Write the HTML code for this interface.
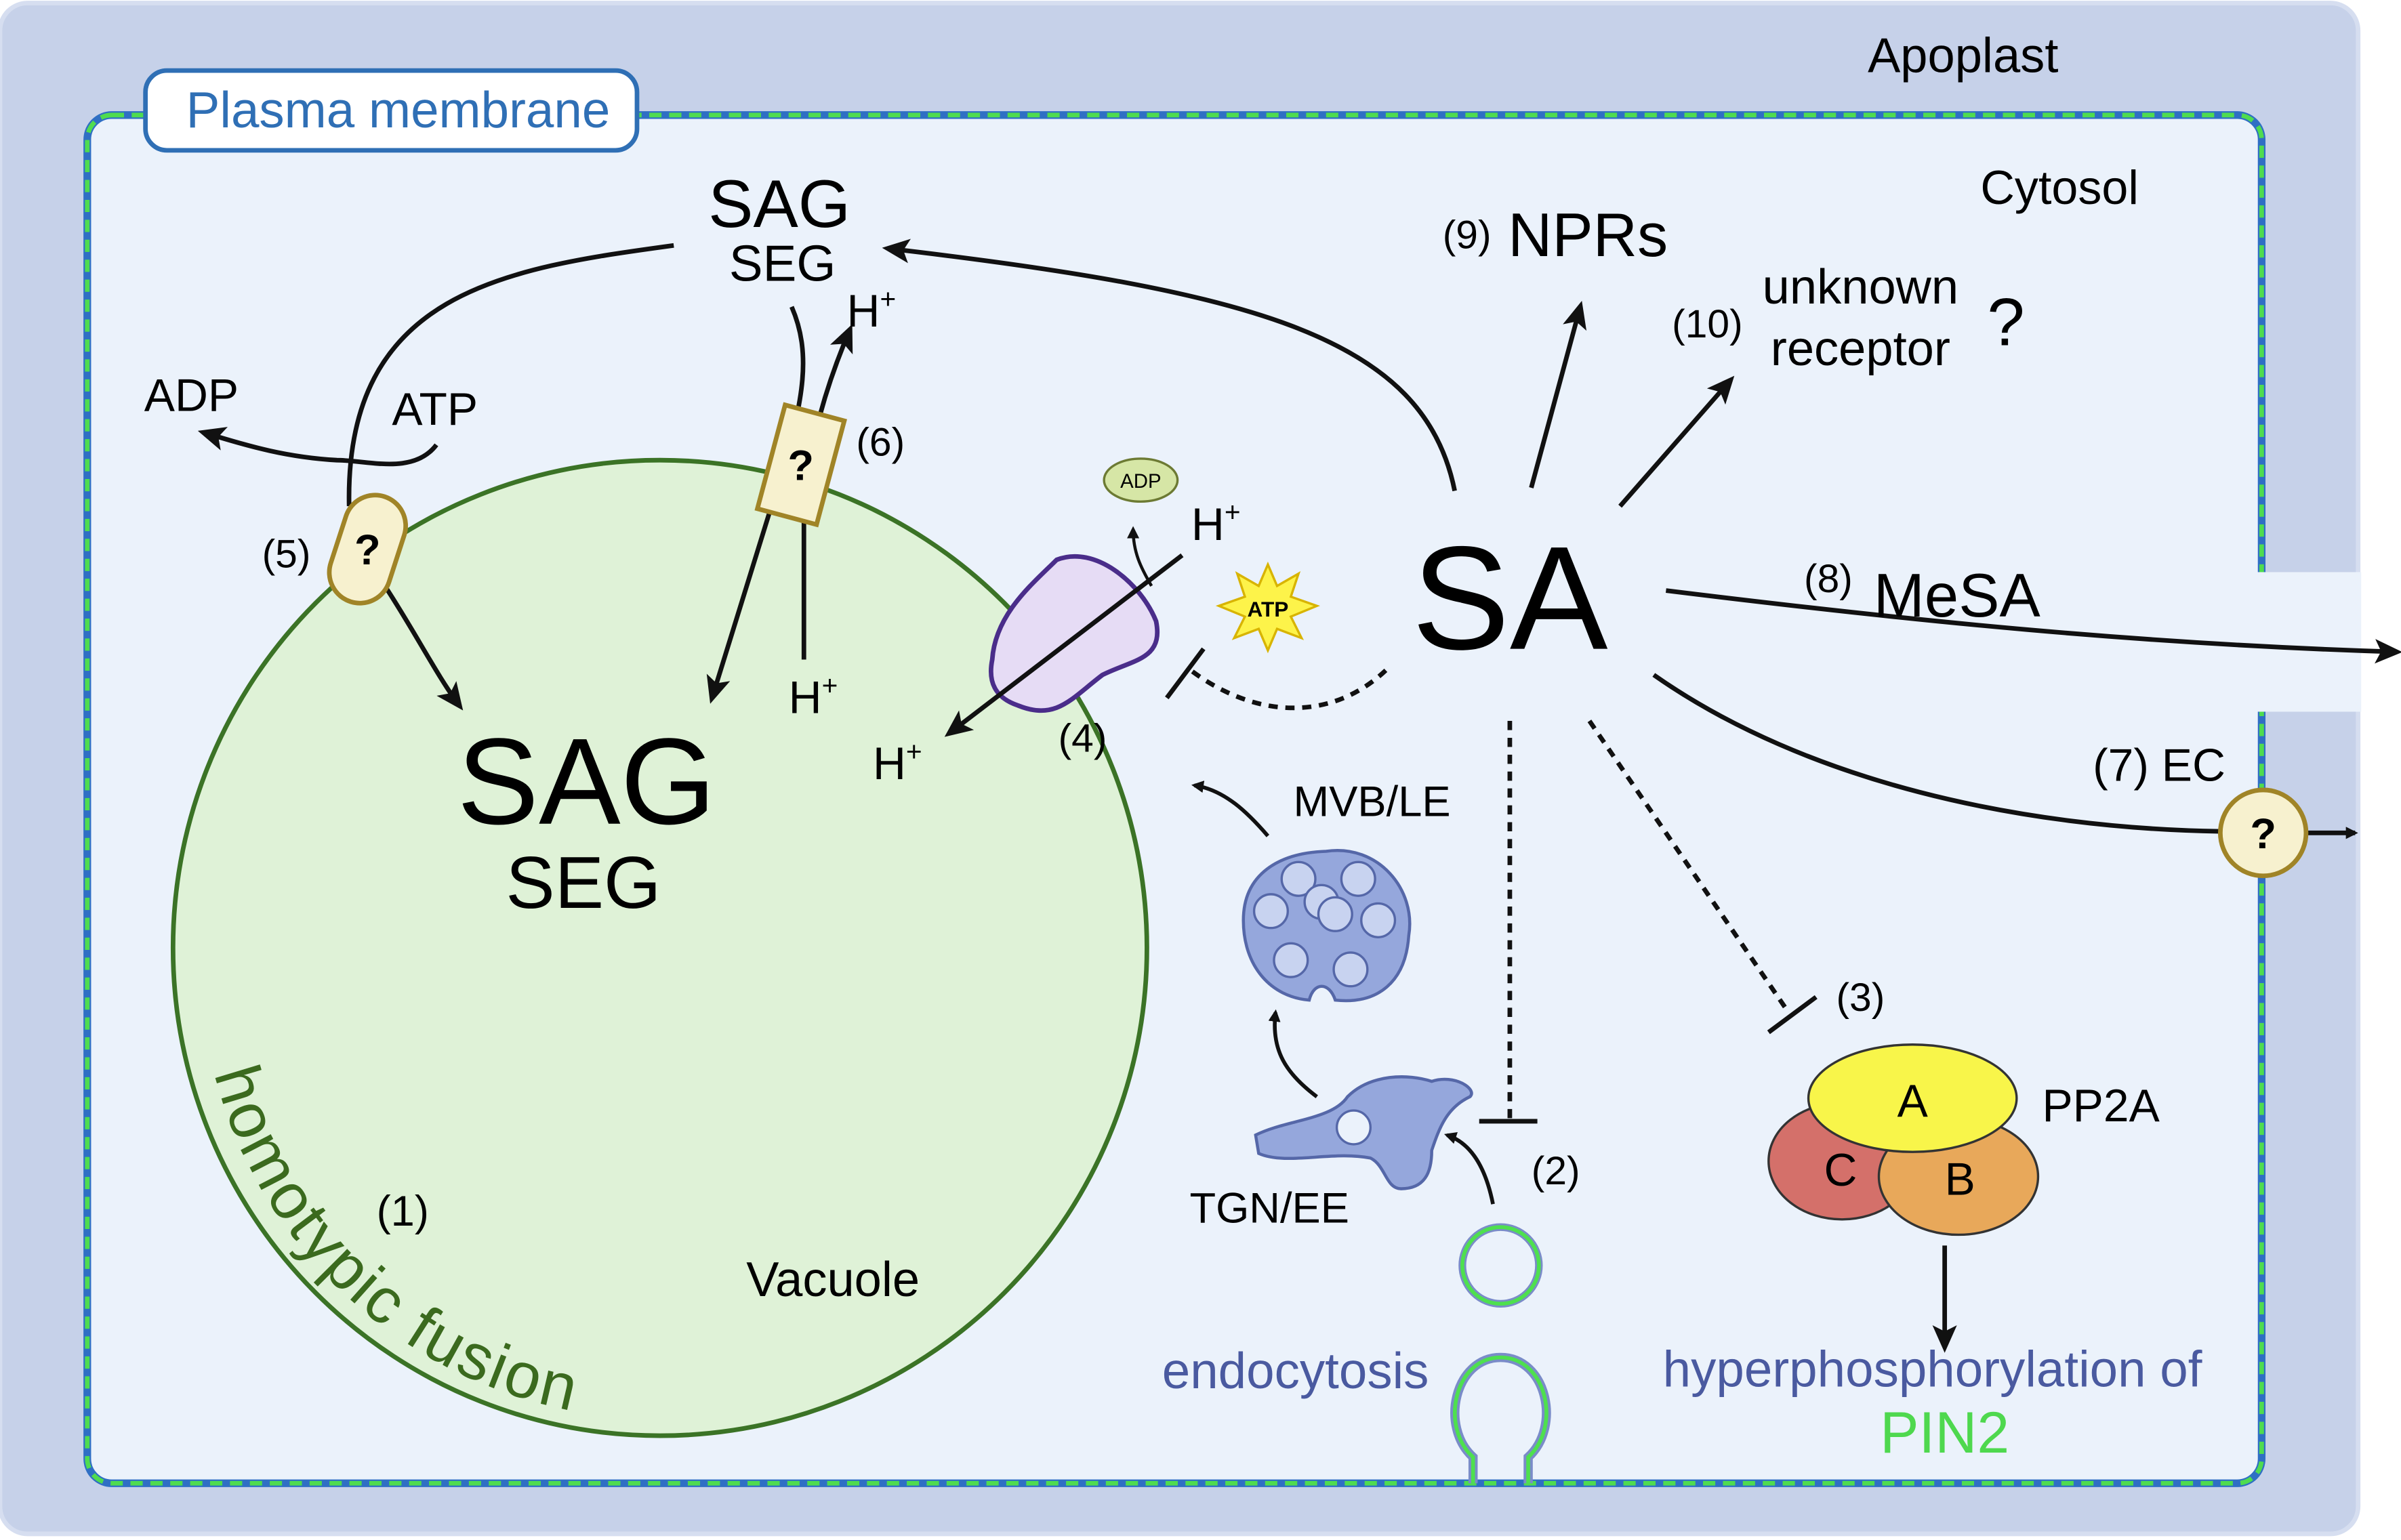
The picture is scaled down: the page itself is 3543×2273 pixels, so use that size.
<!DOCTYPE html>
<html><head><meta charset="utf-8"><style>
html,body{margin:0;padding:0;background:#fff}
svg{display:block}
text{font-family:"Liberation Sans",sans-serif}
</style></head><body>
<svg width="3543" height="2273" viewBox="0 0 1568 1004" preserveAspectRatio="none" xmlns="http://www.w3.org/2000/svg">
<defs>
<marker id="ah" markerWidth="8" markerHeight="8" refX="6" refY="4" orient="auto" markerUnits="userSpaceOnUse" viewBox="0 0 8 8"><path d="M0,0 L8,4 L0,8 Z" fill="#111"/></marker>
<marker id="ahb" markerWidth="18" markerHeight="16" refX="14" refY="8" orient="auto" markerUnits="userSpaceOnUse"><path d="M0,0 L18,8 L0,16 L4,8 Z" fill="#111"/></marker>
<path id="fus" d="M 140 700 A 300 300 0 0 0 420 925"/>
</defs>
<rect x="0" y="2" width="1540" height="998" rx="18" fill="#c6d1e9" stroke="#d6def0" stroke-width="3"/>
<rect x="57" y="75" width="1420" height="892" rx="16" fill="#ebf2fb" stroke="#2f6fc4" stroke-width="5"/>
<rect x="57" y="75" width="1420" height="892" rx="16" fill="none" stroke="#4fdc4f" stroke-width="3" stroke-dasharray="8 5"/>
<rect x="1470" y="373" width="72" height="91" fill="#ebf2fb"/>
<rect x="95" y="46" width="321" height="52" rx="14" fill="#fff" stroke="#2f6fb5" stroke-width="3"/>
<text x="260" y="83" font-size="33" fill="#2f6fb5" text-anchor="middle">Plasma membrane</text>
<text x="1282" y="47" font-size="32" text-anchor="middle">Apoplast</text>
<text x="1345" y="133" font-size="31" text-anchor="middle">Cytosol</text>
<circle cx="431" cy="618" r="318" fill="#dff2d7" stroke="#3b7326" stroke-width="3"/>
<text font-size="42" fill="#3b6a1e" letter-spacing="1.5"><textPath href="#fus">homotypic fusion</textPath></text>
<text x="383" y="537" font-size="80" text-anchor="middle">SAG</text>
<text x="381" y="592" font-size="48" text-anchor="middle">SEG</text>
<text x="509" y="148" font-size="44" text-anchor="middle">SAG</text>
<text x="511" y="183" font-size="33" text-anchor="middle">SEG</text>
<text x="263" y="799" font-size="28" text-anchor="middle">(1)</text>
<text x="544" y="845" font-size="32" text-anchor="middle">Vacuole</text>
<text x="986" y="423" font-size="96" text-anchor="middle">SA</text>
<path d="M440,160 C330,175 225,190 228,330" fill="none" stroke="#111" stroke-width="3"/>
<path d="M285,290 C270,310 240,300 220,300 C185,298 160,290 133,282" fill="none" stroke="#111" stroke-width="3" marker-end="url(#ahb)"/>
<path d="M250,380 C270,410 285,440 300,460" fill="none" stroke="#111" stroke-width="3" marker-end="url(#ahb)"/>
<rect x="220" y="322" width="40" height="72" rx="20" transform="rotate(18 240 358)" fill="#f7f1cf" stroke="#a08427" stroke-width="3"/>
<text x="240" y="368" font-size="28" font-weight="bold" text-anchor="middle">?</text>
<text x="125" y="268" font-size="30" text-anchor="middle">ADP</text>
<text x="284" y="277" font-size="30" text-anchor="middle">ATP</text>
<text x="187" y="370" font-size="26" text-anchor="middle">(5)</text>
<path d="M517,200 C530,230 525,260 510,310 L465,455" fill="none" stroke="#111" stroke-width="3" marker-end="url(#ahb)"/>
<path d="M525,430 L525,330 C528,290 540,250 555,215" fill="none" stroke="#111" stroke-width="3" marker-end="url(#ahb)"/>
<rect x="503" y="268" width="40" height="70" transform="rotate(15 523 303)" fill="#f7f1cf" stroke="#a08427" stroke-width="3"/>
<text x="523" y="313" font-size="28" font-weight="bold" text-anchor="middle">?</text>
<text x="553" y="213" font-size="30">H<tspan font-size="18" dy="-12">+</tspan></text>
<text x="515" y="465" font-size="30">H<tspan font-size="18" dy="-12">+</tspan></text>
<text x="575" y="297" font-size="26" text-anchor="middle">(6)</text>
<path d="M950,320 C930,220 820,190 580,162" fill="none" stroke="#111" stroke-width="3" marker-end="url(#ahb)"/>
<path d="M648,430 C650,400 675,380 690,365 C715,355 745,380 755,405 C760,430 740,430 720,440 C700,455 690,470 665,460 C650,455 645,445 648,430 Z" fill="#e6dcf5" stroke="#4a2d8a" stroke-width="3"/>
<line x1="772" y1="362" x2="620" y2="478" stroke="#111" stroke-width="3" marker-end="url(#ahb)"/>
<path d="M752,382 C745,370 740,360 740,345" fill="none" stroke="#111" stroke-width="2" marker-end="url(#ah)"/>
<ellipse cx="745" cy="313" rx="24" ry="14" fill="#d6e6a6" stroke="#6c7a33" stroke-width="1.5"/>
<text x="745" y="318" font-size="13" text-anchor="middle">ADP</text>
<polygon points="828,368 834,382 848,374 843,389 860,395 843,402 850,416 834,410 828,424 822,410 806,416 813,402 796,395 813,389 808,374 822,382" fill="#fdf34a" stroke="#d8b400" stroke-width="1.5"/>
<text x="828" y="402" font-size="14" font-weight="bold" text-anchor="middle">ATP</text>
<text x="778" y="352" font-size="30">H<tspan font-size="18" dy="-12">+</tspan></text>
<text x="570" y="508" font-size="30">H<tspan font-size="18" dy="-12">+</tspan></text>
<text x="707" y="490" font-size="26" text-anchor="middle">(4)</text>
<path d="M905,437 C870,470 820,470 775,435" fill="none" stroke="#111" stroke-width="3" stroke-dasharray="6 5"/>
<line x1="762" y1="455" x2="786" y2="423" stroke="#111" stroke-width="3"/>
<line x1="1000" y1="318" x2="1032" y2="200" stroke="#111" stroke-width="3" marker-end="url(#ahb)"/>
<text x="958" y="162" font-size="26" text-anchor="middle">(9)</text>
<text x="1037" y="167" font-size="40" text-anchor="middle">NPRs</text>
<line x1="1058" y1="330" x2="1130" y2="248" stroke="#111" stroke-width="3" marker-end="url(#ahb)"/>
<text x="1115" y="220" font-size="26" text-anchor="middle">(10)</text>
<text x="1215" y="198" font-size="32" text-anchor="middle">unknown</text>
<text x="1215" y="238" font-size="32" text-anchor="middle">receptor</text>
<text x="1310" y="225" font-size="44" text-anchor="middle">?</text>
<path d="M1088,385 C1250,405 1400,420 1565,425" fill="none" stroke="#111" stroke-width="3" marker-end="url(#ahb)"/>
<text x="1194" y="386" font-size="26" text-anchor="middle">(8)</text>
<text x="1278" y="402" font-size="40" text-anchor="middle">MeSA</text>
<path d="M1080,440 C1180,510 1320,540 1450,542" fill="none" stroke="#111" stroke-width="3"/>
<line x1="1505" y1="543" x2="1538" y2="543" stroke="#111" stroke-width="3" marker-end="url(#ah)"/>
<text x="1410" y="509" font-size="30" text-anchor="middle">(7) EC</text>
<circle cx="1478" cy="543" r="28" fill="#f7f1cf" stroke="#a08427" stroke-width="3"/>
<text x="1478" y="553" font-size="28" font-weight="bold" text-anchor="middle">?</text>
<line x1="986" y1="470" x2="986" y2="730" stroke="#111" stroke-width="3" stroke-dasharray="6 5"/>
<line x1="966" y1="731" x2="1004" y2="731" stroke="#111" stroke-width="3"/>
<text x="1016" y="772" font-size="26" text-anchor="middle">(2)</text>
<line x1="1038" y1="470" x2="1168" y2="660" stroke="#111" stroke-width="3" stroke-dasharray="6 5"/>
<line x1="1155" y1="673" x2="1186" y2="650" stroke="#111" stroke-width="3"/>
<text x="1215" y="659" font-size="26" text-anchor="middle">(3)</text>
<ellipse cx="1203" cy="757" rx="48" ry="38" fill="#d4706a" stroke="#333" stroke-width="1.5"/>
<ellipse cx="1279" cy="767" rx="52" ry="38" fill="#e8a85a" stroke="#333" stroke-width="1.5"/>
<ellipse cx="1249" cy="716" rx="68" ry="35" fill="#f8f54a" stroke="#333" stroke-width="1.5"/>
<text x="1249" y="728" font-size="30" text-anchor="middle">A</text>
<text x="1202" y="773" font-size="30" text-anchor="middle">C</text>
<text x="1280" y="779" font-size="30" text-anchor="middle">B</text>
<text x="1372" y="731" font-size="30" text-anchor="middle">PP2A</text>
<line x1="1270" y1="812" x2="1270" y2="878" stroke="#111" stroke-width="3" marker-end="url(#ahb)"/>
<text x="1262" y="904" font-size="33" fill="#4a5aa0" text-anchor="middle">hyperphosphorylation of</text>
<text x="1270" y="947" font-size="38" fill="#4ed84e" text-anchor="middle">PIN2</text>
<text x="846" y="905" font-size="33" fill="#4a5aa0" text-anchor="middle">endocytosis</text>
<circle cx="980" cy="825" r="25" fill="#ebf2fb" stroke="#7a8cc8" stroke-width="5"/>
<circle cx="980" cy="825" r="25" fill="none" stroke="#4ee04e" stroke-width="2.5"/>
<path d="M962,967 L962,950 C940,930 950,885 980,885 C1010,885 1020,930 998,950 L998,967" fill="none" stroke="#7a8cc8" stroke-width="6"/>
<path d="M962,967 L962,950 C940,930 950,885 980,885 C1010,885 1020,930 998,950 L998,967" fill="none" stroke="#4ee04e" stroke-width="2.5"/>
<path d="M975,785 C970,760 960,745 945,740" fill="none" stroke="#111" stroke-width="2.5" marker-end="url(#ah)"/>
<path d="M820,740 C840,730 870,730 880,715 C895,700 920,700 935,705 C950,700 965,710 960,715 C945,722 940,735 935,750 C935,765 930,775 915,775 C905,775 905,760 895,755 C870,750 840,760 822,752 Z" fill="#95a7dc" stroke="#5567a8" stroke-width="2"/>
<circle cx="884" cy="735" r="11" fill="#ebf2fb" stroke="#5567a8" stroke-width="1.5"/>
<text x="829" y="797" font-size="28" text-anchor="middle">TGN/EE</text>
<path d="M860,715 C840,700 830,685 833,660" fill="none" stroke="#111" stroke-width="2.5" marker-end="url(#ah)"/>
<path d="M866,555 C900,550 925,580 920,610 C918,640 900,655 872,652 C868,640 858,640 855,652 C830,650 812,630 812,600 C812,570 835,556 866,555 Z" fill="#95a7dc" stroke="#5567a8" stroke-width="2"/>
<g fill="#c8d3f0" stroke="#5567a8" stroke-width="1.5">
<circle cx="848" cy="573" r="11"/><circle cx="887" cy="573" r="11"/><circle cx="830" cy="594" r="11"/><circle cx="863" cy="588" r="11"/><circle cx="872" cy="596" r="11"/><circle cx="900" cy="600" r="11"/><circle cx="843" cy="626" r="11"/><circle cx="882" cy="632" r="11"/>
</g>
<text x="896" y="532" font-size="28" text-anchor="middle">MVB/LE</text>
<path d="M828,545 C815,530 800,515 780,512" fill="none" stroke="#111" stroke-width="2.5" marker-end="url(#ah)"/>
</svg>
</body></html>
